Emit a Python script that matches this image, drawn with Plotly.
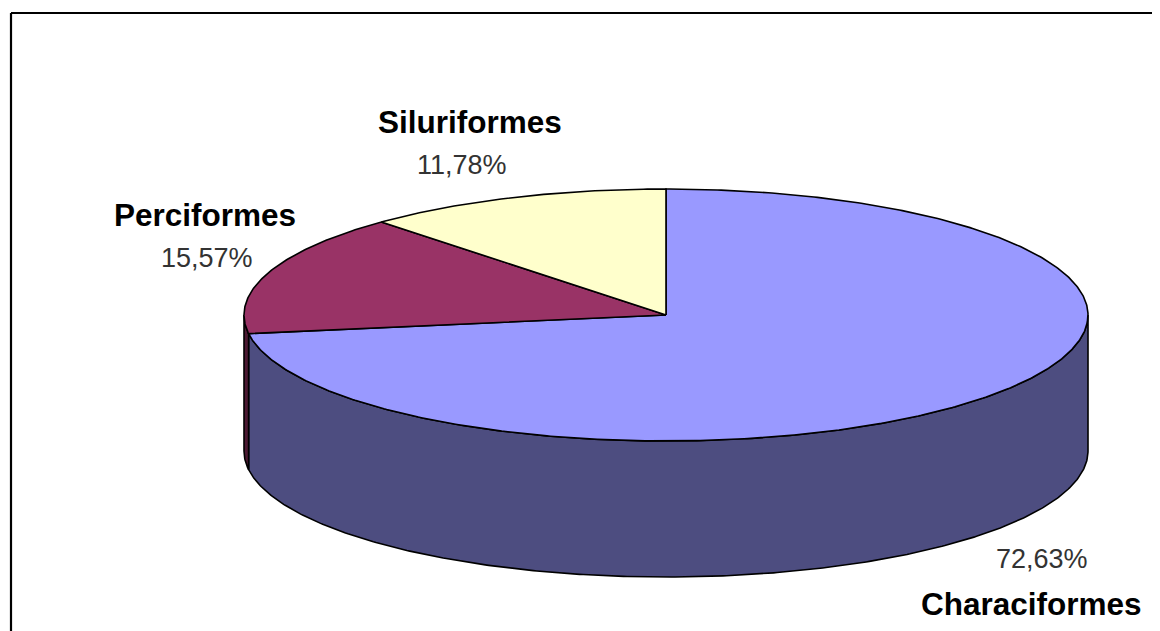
import numpy as np
import plotly.graph_objects as go

categories = ["Characiformes", "Perciformes", "Siluriformes"]
values = [72.63, 15.57, 11.78]
value_labels = ["72,63%", "15,57%", "11,78%"]
top_colors = ["#9999FF", "#993366", "#FFFFCC"]
side_colors = ["#4D4D80", "#4D1A33", "#808066"]

CX, CY, RX, RY, DEPTH = 666, 315, 422, 126, 136
LINE = dict(color="#000000", width=1.6)
PAGE_MARGIN = 8  # the page body's default margin shifts the figure


def rim(a0, a1, dy=0):
    t = np.radians(np.linspace(a0, a1, max(int(abs(a1 - a0) * 2), 2)))
    return CX + RX * np.sin(t), CY - RY * np.cos(t) + dy


fig = go.Figure()
total = sum(values)
edges = np.concatenate([[0], np.cumsum(values) / total * 360])

# Side walls: only the front half of the rim (90 to 270 degrees) is visible
for i, name in enumerate(categories):
    a0, a1 = max(edges[i], 90), min(edges[i + 1], 270)
    if a1 <= a0:
        continue
    xt, yt = rim(a0, a1)
    xb, yb = rim(a0, a1, DEPTH)
    fig.add_trace(go.Scatter(
        x=np.concatenate([xt, xb[::-1], xt[:1]]),
        y=np.concatenate([yt, yb[::-1], yt[:1]]),
        mode="lines", fill="toself", fillcolor=side_colors[i], line=LINE,
        name=name, hoverinfo="name", showlegend=False))

# Top faces
for i, name in enumerate(categories):
    xr, yr = rim(edges[i], edges[i + 1])
    fig.add_trace(go.Scatter(
        x=np.concatenate([[CX], xr, [CX]]),
        y=np.concatenate([[CY], yr, [CY]]),
        mode="lines", fill="toself", fillcolor=top_colors[i], line=LINE,
        name=name, hoverinfo="name", showlegend=False))

label_pos = [(1031, 604, 1042, 559), (205, 215, 207, 258), (470, 122, 462, 165)]
for i, name in enumerate(categories):
    nx, ny, vx, vy = label_pos[i]
    fig.add_annotation(x=nx, y=ny, text=f"<b>{name}</b>", showarrow=False,
                       font=dict(family="Liberation Sans", size=31.5, color="#000000"))
    fig.add_annotation(x=vx, y=vy, text=value_labels[i], showarrow=False,
                       font=dict(family="Liberation Sans", size=27, color="#333333"))

# Picture frame: top and left rules only
fig.add_shape(type="line", x0=11, x1=1160, y0=13, y1=13, line=dict(color="#000000", width=2.2))
fig.add_shape(type="line", x0=11, x1=11, y0=13, y1=631, line=dict(color="#000000", width=2.2))

fig.update_layout(
    width=1160 - PAGE_MARGIN, height=631 - PAGE_MARGIN, margin=dict(l=0, r=0, t=0, b=0),
    paper_bgcolor="#FFFFFF", plot_bgcolor="#FFFFFF", showlegend=False,
    xaxis=dict(range=[PAGE_MARGIN, 1160], visible=False, fixedrange=True),
    yaxis=dict(range=[631, PAGE_MARGIN], visible=False, fixedrange=True),
)
fig.write_html("out.html", config={"displayModeBar": False})
